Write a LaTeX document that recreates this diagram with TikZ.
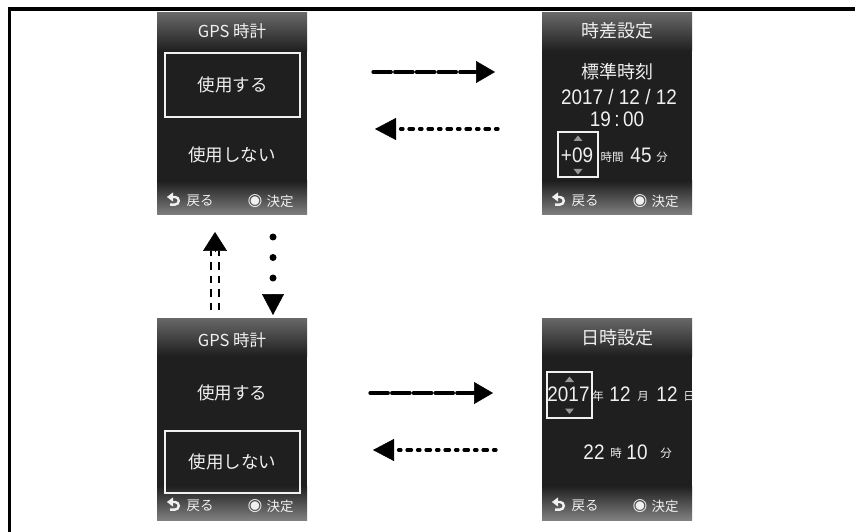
\documentclass[tikz,border=0pt]{standalone}
\usepackage{fontspec}
\setmainfont[FakeStretch=0.9]{Liberation Sans}
\newfontfamily\jpfont{Noto Sans CJK JP}
\newfontfamily\symfont{DejaVu Sans}
\usetikzlibrary{arrows.meta,calc}
\usepackage{tkz-euclide}
\definecolor{ScrTop}{RGB}{104,104,104}
\definecolor{ScrBody}{RGB}{31,31,31}
\definecolor{ScrFoot}{RGB}{128,128,128}
\definecolor{ScrText}{RGB}{240,240,240}
\definecolor{MarkClr}{RGB}{150,150,150}

\tikzset{
  jp/.style={text=ScrText,inner sep=0pt,font=\jpfont\fontsize{#1}{#1}\selectfont},
  num/.style={text=ScrText,inner sep=0pt,font=\fontsize{#1}{#1}\selectfont},
  selbox/.style={draw=ScrText,line width=1.3pt},
  fwdline/.style={line width=3.2pt,dash pattern=on 18.3pt off 3.4pt,
    -{Triangle[length=19pt,width=22pt,line width=0.5pt]}},
  backline/.style={line width=3.2pt,dash pattern=on 2.5pt off 6pt on 4.5pt off 6pt,
    -{Triangle[length=21pt,width=22pt,line width=0.5pt]}},
  upshaft/.style={line width=2.7pt,double,double distance=5.3pt,dash pattern=on 7.5pt off 6pt},
  dotshaft/.style={line width=7pt,line cap=round,dash pattern=on 0pt off 20.5pt},
  headonly/.style={line width=0.5pt,-{Triangle[length=#1]}}
}

\begin{document}
\begin{tikzpicture}[x=1pt,y=-1pt]
\tkzSetUpLine[line width=1pt,color=black]
\useasboundingbox (0,0) rectangle (855,532);

\draw[line width=3.5pt] (9.5,532) -- (9.5,9) -- (855,9);

% screens
\foreach \sx/\sy in {157/13,542/13,157/318,542/318}{
  \fill[ScrBody] (\sx,\sy) rectangle ++(150,202);
  \shade[top color=ScrTop,bottom color=ScrBody] (\sx,\sy) rectangle ++(150,38);
  \shade[top color=ScrBody,bottom color=ScrFoot] (\sx,\sy+168) rectangle ++(150,34);
  \draw[ScrText,line width=2.4pt,{Triangle[length=6pt,width=9pt,line width=0.5pt]}-]
    (\sx+10,\sy+184) -- ++(8,0) arc(-90:90:3.8) -- ++(-5,0);
  \node[jp=13.5] (ret-\sx-\sy) at (\sx+43,\sy+188) {戻る};
  \node[text=ScrText,inner sep=0pt,font=\symfont\fontsize{17}{17}\selectfont] (ok-\sx-\sy) at (\sx+98,\sy+188) {◉};
  \node[jp=13.5] (dec-\sx-\sy) at (\sx+123,\sy+188) {決定};
}

\node[jp=16.5] (gpsA) at (232,31) {GPS 時計};
\node[selbox,jp=17.5,minimum width=135pt,minimum height=64pt] (useA) at (232.5,85) {使用する};
\node[jp=17.5] (nouseA) at (232,155) {使用しない};

\node[jp=16.5] (gpsB) at (232,340) {GPS 時計};
\node[jp=17.5] (useB) at (232,393) {使用する};
\node[selbox,jp=17.5,minimum width=135pt,minimum height=62pt] (nouseB) at (232.5,462) {使用しない};

\node[jp=18] (tzTitle) at (617,31) {時差設定};
\node[jp=18] (tzStd) at (617,72) {標準時刻};
\node[num=21] (tzDate) at (619,97) {2017 / 12 / 12};
\node[num=21] (tzTime) at (617,119) {19\,:\,00};
\node[selbox,minimum width=40pt,minimum height=45pt] (tzBox) at (578,154.5) {};
\node[num=21] (tzOff) at (577,155) {+09};
\fill[MarkClr] (573.5,141) -- (582.5,141) -- (578,135.5) -- cycle;
\fill[MarkClr] (573.5,169) -- (582.5,169) -- (578,174.5) -- cycle;
\node[jp=11.5] (tzHour) at (612,157) {時間};
\node[num=21] (tzMin) at (641,155) {45};
\node[jp=11.5] (tzMinU) at (662,157) {分};

\node[jp=18] (dtTitle) at (617,338) {日時設定};
\node[selbox,minimum width=45pt,minimum height=46pt] (dtBox) at (569.5,395) {};
\node[num=21] (dtYear) at (568.5,394) {2017};
\fill[MarkClr] (565,382) -- (574,382) -- (569.5,376.5) -- cycle;
\fill[MarkClr] (565,408.5) -- (574,408.5) -- (569.5,414) -- cycle;
\node[jp=11.5] (dtYearU) at (598,396) {年};
\node[num=21] (dtMonth) at (620,394) {12};
\node[jp=11.5] (dtMonthU) at (643,396) {月};
\node[num=21] (dtDay) at (667,394) {12};
\begin{scope}
  \clip (542,318) rectangle (692,520);
  \node[jp=11.5] (dtDayU) at (689,396) {日};
\end{scope}
\node[num=21] (dtHour) at (594,452) {22};
\node[jp=11.5] (dtHourU) at (616,453) {時};
\node[num=21] (dtMin) at (637,452) {10};
\node[jp=11.5] (dtMinU) at (666,453) {分};

% transitions
\tkzDefPoints{373/72/RA,495/72/RB,498/129/LA,375/129/LB}
\tkzDefPoints{370/393/RC,493/393/RD,496/450/LC,373/450/LD}
\tkzDefPoints{215/310/UA,215/251/UB,215/232/UC}
\tkzDefPoints{273/237/DA,273/280/DB,273/294/DC,273/315/DD}

\tkzDrawSegments[fwdline](RA,RB RC,RD)
\tkzDrawSegments[backline](LA,LB LC,LD)

\draw[upshaft] (UA) -- (UB);
\draw[headonly=19pt,-{Triangle[length=19pt,width=24pt]}] (UB) -- (UC);
\draw[dotshaft] (DA) -- (DB);
\draw[headonly=21pt,-{Triangle[length=21pt,width=22pt]}] (DC) -- (DD);

\end{tikzpicture}
\end{document}
